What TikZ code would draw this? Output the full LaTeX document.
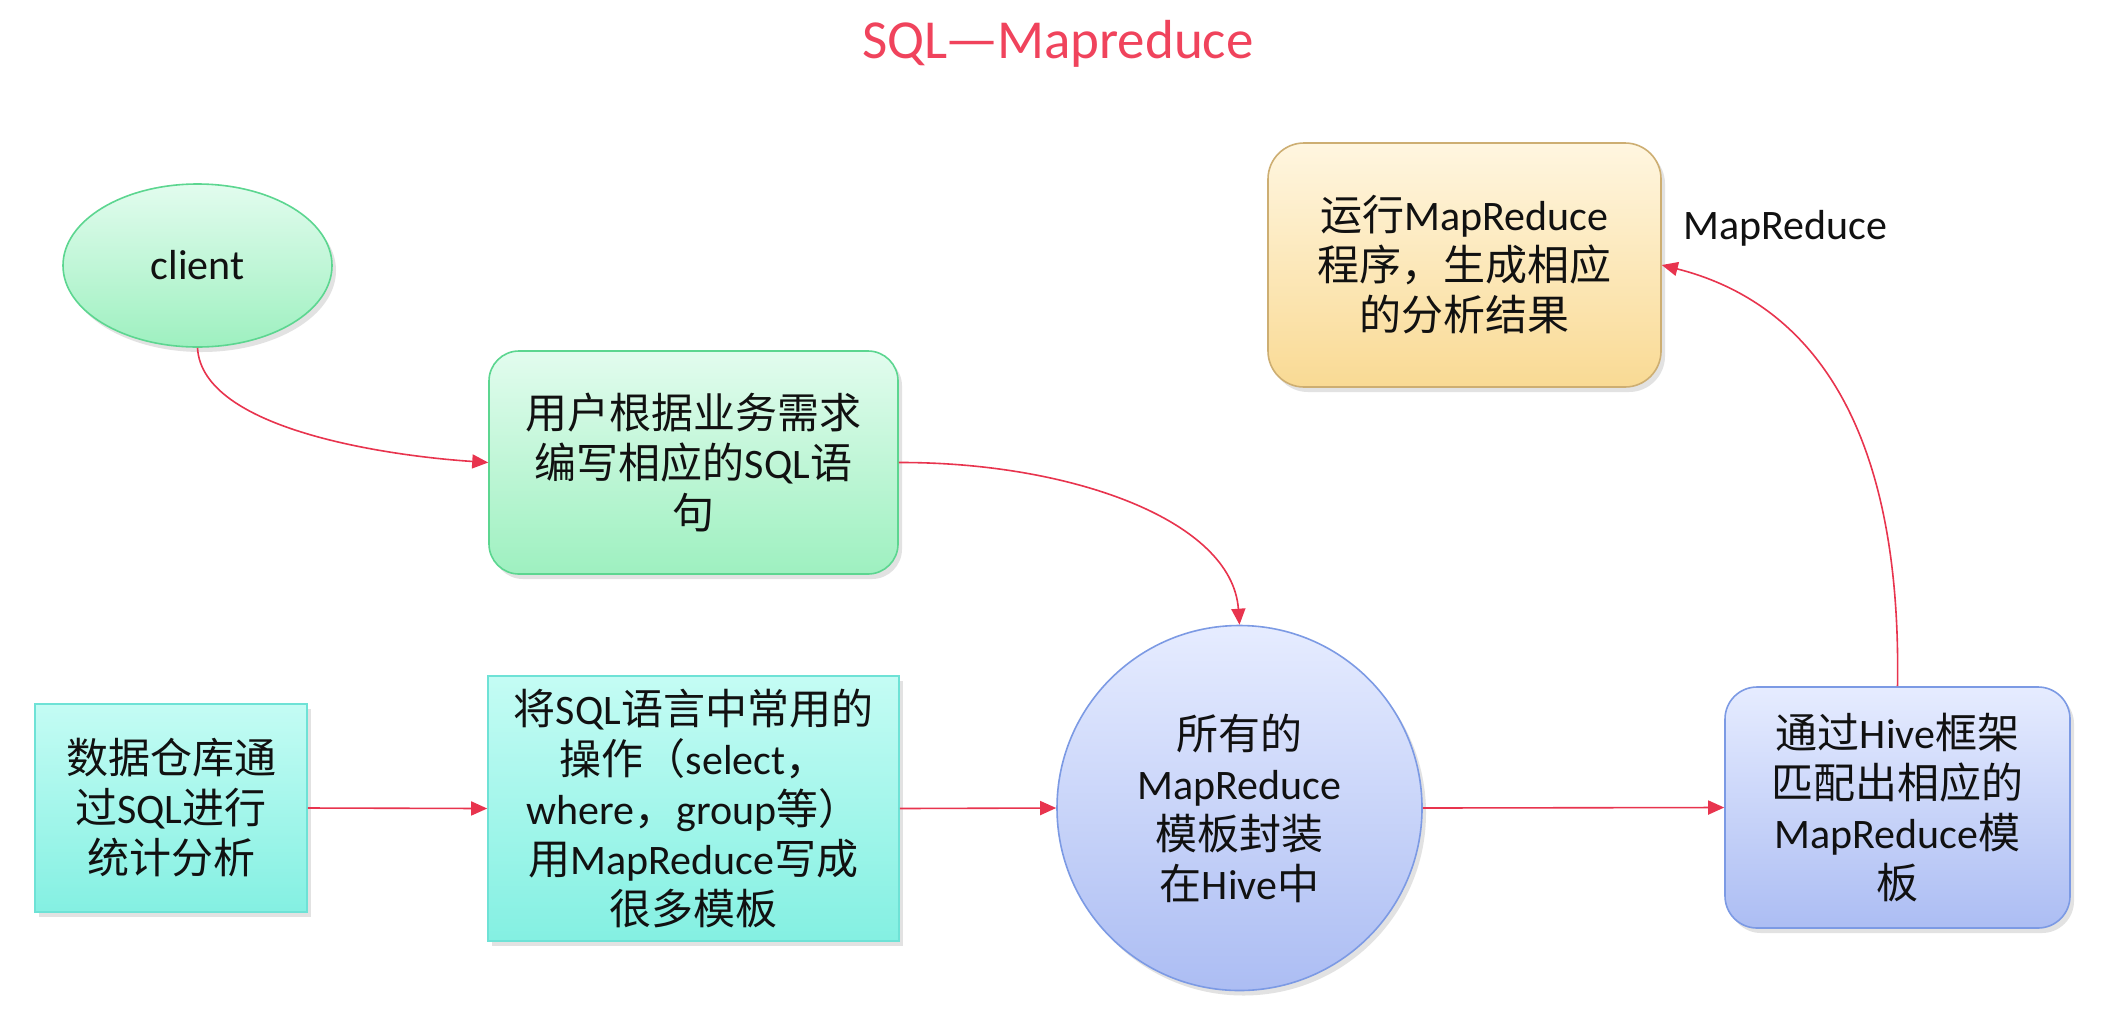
\documentclass[tikz,border=0pt]{standalone}
\usepackage{fontspec}
\setmainfont{Carlito}
\newfontfamily\zhfont{Noto Sans CJK SC}
\newcommand\zh[1]{{\zhfont #1}}
\usetikzlibrary{arrows.meta,shapes.geometric,shadows}
\definecolor{arrowred}{HTML}{E8344E}
\definecolor{titlered}{HTML}{F0435C}
\definecolor{txt}{HTML}{111111}
\definecolor{grTop}{HTML}{E2FCEE}
\definecolor{grBot}{HTML}{9EF0C0}
\definecolor{grLine}{HTML}{5CD690}
\definecolor{cyTop}{HTML}{C4FCF4}
\definecolor{cyBot}{HTML}{84F0E2}
\definecolor{cyLine}{HTML}{6EE2D6}
\definecolor{orTop}{HTML}{FFF6E0}
\definecolor{orBot}{HTML}{F9DA94}
\definecolor{orLine}{HTML}{CDAE72}
\definecolor{blTop}{HTML}{E6ECFF}
\definecolor{blBot}{HTML}{ACBDF3}
\definecolor{blLine}{HTML}{7C9AE4}
\tikzset{
  base/.style={inner sep=0pt, align=center, text=txt,
    font=\fontsize{21}{25}\selectfont, line width=0.8pt,
    drop shadow={shadow xshift=2pt, shadow yshift=-2.5pt, opacity=0.25, fill=black!45}},
  greenbox/.style={base, draw=grLine, top color=grTop, bottom color=grBot},
  cyanbox/.style={base, draw=cyLine, top color=cyTop, bottom color=cyBot},
  orangebox/.style={base, draw=orLine, top color=orTop, bottom color=orBot},
  bluebox/.style={base, draw=blLine, top color=blTop, bottom color=blBot},
  conn/.style={draw=arrowred, line width=0.8pt, -{Triangle[length=8pt,width=7pt]}},
}
\begin{document}
\begin{tikzpicture}[x=0.5pt,y=-0.5pt]
\useasboundingbox (0,0) rectangle (2108,1034);
\fill[white] (0,0) rectangle (2108,1034);

\node[text=titlered, font=\fontsize{27.5}{32}\selectfont] (title) at (1058,44) {SQL\zh{—}Mapreduce};

\node[greenbox, ellipse, minimum width=134.5pt, minimum height=81.5pt] (client) at (197.5,265.5) {client};

\node[greenbox, rectangle, rounded corners=15pt, minimum width=204.5pt, minimum height=111.5pt] (usr) at (693.5,462.5)
  {\zh{用户根据业务需求}\\\zh{编写相应的}SQL\zh{语}\\\zh{句}};

\node[orangebox, rectangle, rounded corners=18pt, minimum width=196.5pt, minimum height=122pt] (run) at (1464.5,265)
  {\zh{运行}MapReduce\\\zh{程序，生成相应}\\\zh{的分析结果}};

\node[anchor=west, text=txt, font=\fontsize{21}{25}\selectfont, inner sep=0pt] (mrlabel) at (1683,228) {MapReduce};

\node[cyanbox, rectangle, minimum width=136pt, minimum height=104pt] (dw) at (171,808)
  {\zh{数据仓库通}\\\zh{过}SQL\zh{进行}\\\zh{统计分析}};

\node[cyanbox, rectangle, minimum width=205.5pt, minimum height=132.5pt] (tpl) at (693.5,808.5)
  {\zh{将}SQL\zh{语言中常用的}\\\zh{操作（}select\zh{，}\\where\zh{，}group\zh{等）}\\\zh{用}MapReduce\zh{写成}\\\zh{很多模板}};

\node[bluebox, circle, minimum size=182.5pt] (hive) at (1239.5,808)
  {\zh{所有的}\\MapReduce\\\zh{模板封装}\\\zh{在}Hive\zh{中}};

\node[bluebox, rectangle, rounded corners=16pt, minimum width=172.5pt, minimum height=120.5pt] (match) at (1897.5,807.5)
  {\zh{通过}Hive\zh{框架}\\\zh{匹配出相应的}\\MapReduce\zh{模}\\\zh{板}};

\draw[conn] (client.south) .. controls (202,430) and (390,456) .. (usr.west);
\draw[conn] (usr.east) .. controls (1070,462) and (1232,520) .. (hive.north);
\draw[conn] (dw.east) -- (tpl.west);
\draw[conn] (tpl.east) -- (hive.west);
\draw[conn] (hive.east) -- (match.west);
\draw[conn] (match.north) .. controls (1902,410) and (1800,300) .. (run.east);
\end{tikzpicture}
\end{document}
